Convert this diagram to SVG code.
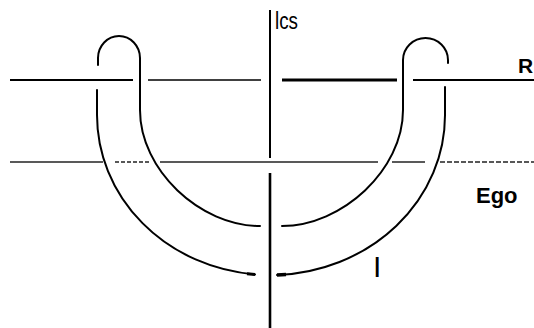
<svg xmlns="http://www.w3.org/2000/svg" width="534" height="328" viewBox="0 0 534 328">
<style>
.ln{stroke:#000;fill:none;stroke-linecap:butt}
.thin{stroke:#222;stroke-width:1.3;fill:none}
.cv{stroke:#000;stroke-width:2;fill:none;stroke-linecap:round}
.lbl{font-family:"Liberation Sans",Arial,sans-serif;fill:#000}
</style>
<rect width="534" height="328" fill="#fff"/>
<g id="connectors">
<g id="line-R">
<line class="ln" x1="10" y1="80" x2="133" y2="80" stroke-width="2"/>
<line class="ln" x1="148" y1="80" x2="261" y2="80" stroke-width="1.6"/>
<line class="ln" x1="282" y1="80" x2="397" y2="80" stroke-width="2.8"/>
<line class="ln" x1="413" y1="80" x2="534" y2="80" stroke-width="2"/>
</g>
<g id="line-Ego">
<line class="thin" x1="10" y1="162" x2="103" y2="162" stroke="#555"/>
<line class="thin" x1="115" y1="162" x2="150" y2="162" stroke-dasharray="4 2"/>
<line class="thin" x1="160" y1="162" x2="378" y2="162"/>
<line class="thin" x1="392" y1="162" x2="425" y2="162"/>
<line class="thin" x1="440" y1="162" x2="534" y2="162" stroke-dasharray="5 2"/>
</g>
<g id="axis">
<line class="ln" x1="270" y1="10" x2="270" y2="158" stroke-width="2"/>
<line class="ln" x1="270" y1="173" x2="270" y2="328" stroke-width="2.6"/>
</g>
</g>
<g id="node-left-loop">
<path class="cv" d="M98,65 L98,58 A21,22 0 0 1 140,58 L140,110 C140,170 200,226 260,226"/>
<path class="cv" d="M97,90 L97,115 A173,160 0 0 0 255,274.4"/>
<path d="M247,273.8 L255,274.4" stroke="#000" stroke-width="3" fill="none"/>
</g>
<g id="node-right-loop">
<path class="cv" d="M282,226 C342,226 403,170 403,110 L403,60 A22.5,22 0 0 1 448,60 L448,63"/>
<path class="cv" d="M445,87 L445,115 A175,160 0 0 1 277,275"/>
<path d="M277,275 L286,274.5" stroke="#000" stroke-width="3.4" fill="none"/>
</g>
<g id="labels">
<text class="lbl" x="275" y="29" font-size="23" textLength="23" lengthAdjust="spacingAndGlyphs">lcs</text>
<text class="lbl" x="518" y="73" font-size="21" font-weight="bold">R</text>
<text class="lbl" x="476" y="203" font-size="22" font-weight="bold">Ego</text>
<text class="lbl" x="373" y="277" font-size="30">I</text>
</g>
</svg>
